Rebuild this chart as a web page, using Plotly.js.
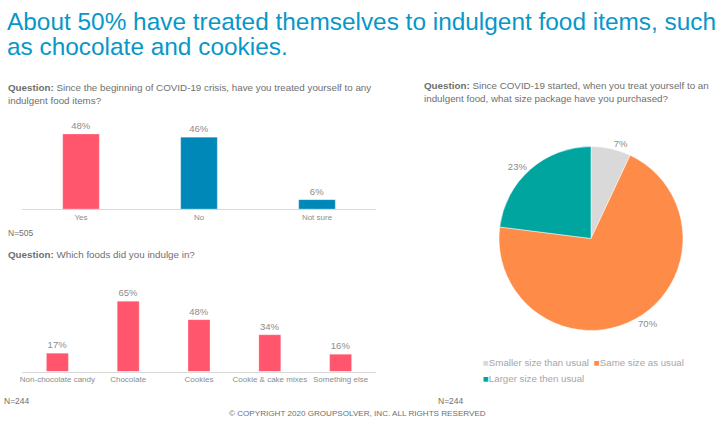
<!DOCTYPE html>
<html>
<head>
<meta charset="utf-8">
<script src="https://cdn.plot.ly/plotly-3.0.1.min.js"></script>
<style>html,body{margin:0;padding:0;background:#fff;}#chart{width:727px;height:424px;}</style>
</head>
<body>
<div id="chart"></div>
<script>
// ---- data ----
var treatCategories = ["Yes", "No", "Not sure"];
var treatValues = [48, 46, 6];
var foodCategories = ["Non-chocolate candy", "Chocolate", "Cookies", "Cookie & cake mixes", "Something else"];
var foodValues = [17, 65, 48, 34, 16];
var sizeCategories = ["Smaller size than usual", "Same size as usual", "Larger size then usual"];
var sizeValues = [7, 70, 23];

var titleLines = ["About 50% have treated themselves to indulgent food items, such", "as chocolate and cookies."];
var q1 = ["Since the beginning of COVID-19 crisis, have you treated yourself to any", "indulgent food items?"];
var q2 = ["Which foods did you indulge in?"];
var q3 = ["Since COVID-19 started, when you treat yourself to an", "indulgent food, what size package have you purchased?"];
var nTreat = "N=505", nFood = "N=244", nSize = "N=244";
var copyright = "\u00a9 COPYRIGHT 2020 GROUPSOLVER, INC. ALL RIGHTS RESERVED";

// ---- styling ----
var W = 727, H = 424;
function px(x){ return x / W; }
function py(y){ return 1 - y / H; }
var FONT = "Liberation Sans, Arial, sans-serif";
var PINK = "#ff566e", BLUE = "#0088b9";
var sizeColors = ["#d9d9d9", "#ff8b48", "#00a5a0"];

var traces = [
  {
    type: "bar", x: treatCategories, y: treatValues, xaxis: "x", yaxis: "y",
    marker: {color: [PINK, BLUE, BLUE], line: {color: "rgba(255,255,255,0.5)", width: 0.5}},
    texttemplate: "%{y}%", textposition: "outside", cliponaxis: false,
    textfont: {family: FONT, size: 9.5, color: "#8c8c8c"},
    hoverinfo: "skip", showlegend: false
  },
  {
    type: "bar", x: foodCategories, y: foodValues, xaxis: "x2", yaxis: "y2",
    marker: {color: PINK, line: {color: "rgba(255,255,255,0.5)", width: 0.5}},
    texttemplate: "%{y}%", textposition: "outside", cliponaxis: false,
    textfont: {family: FONT, size: 9.5, color: "#8c8c8c"},
    hoverinfo: "skip", showlegend: false
  },
  {
    type: "pie", labels: sizeCategories, values: sizeValues, sort: false,
    direction: "clockwise", rotation: 0,
    marker: {colors: sizeColors, line: {color: "#ffffff", width: 0.5}},
    textinfo: "percent", texttemplate: "%{percent:.0%}", textposition: "outside",
    textfont: {family: FONT, size: 9.5, color: "#8c8c8c"},
    domain: {x: [px(591 - 92), px(591 + 92)], y: [py(238.5 + 92), py(238.5 - 92)]},
    automargin: false, showlegend: false, hoverinfo: "skip"
  }
];

function ann(text, x, y, size, color, xanchor, extra){
  var a = {text: text, x: px(x), y: py(y), xref: "paper", yref: "paper",
    xanchor: xanchor || "left", yanchor: "middle", showarrow: false,
    font: {family: FONT, size: size, color: color}, align: "left"};
  if (extra) for (var k in extra) a[k] = extra[k];
  return a;
}

var TITLE = "#0797c9", QCOL = "#6f6f6f";
var annotations = [
  ann(titleLines[0], 5, 21, 24.4, TITLE),
  ann(titleLines[1], 5, 46, 24.4, TITLE),
  ann("<b>Question:</b> " + q1[0], 6, 87, 9.8, QCOL),
  ann(q1[1], 6, 100, 9.8, QCOL),
  ann("<b>Question:</b> " + q2[0], 6, 255, 9.8, QCOL),
  ann("<b>Question:</b> " + q3[0], 422, 85, 9.8, QCOL),
  ann(q3[1], 422, 98, 9.8, QCOL),
  ann(nTreat, 6, 233, 8.5, "#6f6f6f"),
  ann(nFood, 2, 401, 8.5, "#6f6f6f"),
  ann(nSize, 436, 401, 8.5, "#6f6f6f"),
  ann(copyright, 357, 413, 8.1, "#6f6f6f", "center")
];
// legend for the pie, built from categories/colors
var legPos = [[481, 362], [592, 362], [481, 378]];
for (var i = 0; i < sizeCategories.length; i++) {
  annotations.push(ann('<span style="color:' + sizeColors[i] + '">\u25A0</span>' + sizeCategories[i],
    legPos[i][0], legPos[i][1], 9.7, "#a6a6a6"));
}

var axisCommon = {showgrid: false, zeroline: false, ticks: "", fixedrange: true};
var layout = {
  width: W, height: H,
  margin: {l: 0, r: 0, t: 0, b: 0},
  paper_bgcolor: "#ffffff", plot_bgcolor: "rgba(0,0,0,0)",
  showlegend: false,
  bargap: 0.69,
  xaxis: Object.assign({}, axisCommon, {domain: [px(22), px(376)], anchor: "y",
    showline: true, linecolor: "#d9d9d9", linewidth: 1,
    tickfont: {family: FONT, size: 8, color: "#8c8c8c"}}),
  yaxis: Object.assign({}, axisCommon, {domain: [py(209), py(209 - 93.75)], range: [0, 60], showticklabels: false, anchor: "x"}),
  xaxis2: Object.assign({}, axisCommon, {domain: [px(22), px(376)], anchor: "y2",
    showline: true, linecolor: "#d9d9d9", linewidth: 1,
    tickfont: {family: FONT, size: 8, color: "#8c8c8c"}}),
  yaxis2: Object.assign({}, axisCommon, {domain: [py(371.5), py(371.5 - 86.4)], range: [0, 80], showticklabels: false, anchor: "x2"}),
  annotations: annotations
};

Plotly.newPlot("chart", traces, layout, {displayModeBar: false, staticPlot: true});
</script>
</body>
</html>
